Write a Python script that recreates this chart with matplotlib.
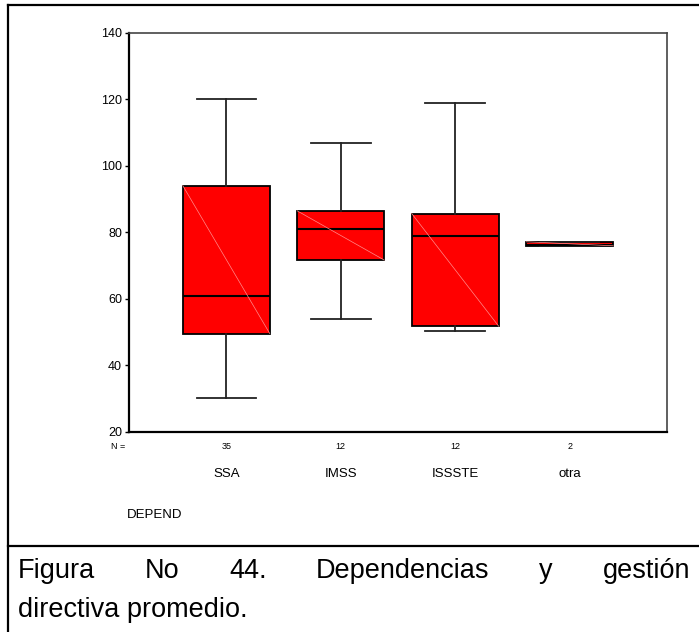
import matplotlib.pyplot as plt
from matplotlib.lines import Line2D
from matplotlib.transforms import blended_transform_factory

plt.rcParams['font.family'] = ['Liberation Sans', 'DejaVu Sans']

# --- data ---
categories = ["SSA", "IMSS", "ISSSTE", "otra"]
n_counts = [35, 12, 12, 2]
whis_low = [30.2, 54.0, 50.5, 76.0]
q1 = [49.6, 71.7, 51.8, 76.0]
medians = [60.9, 81.1, 79.0, 76.2]
q3 = [94.1, 86.5, 85.7, 77.2]
whis_high = [120.0, 107.0, 119.0, 77.2]
y_ticks = [20, 40, 60, 80, 100, 120, 140]

caption_line1 = ["Figura", "No", "44.", "Dependencias", "y", "gestión"]
caption_line2 = "directiva promedio."

positions = list(range(1, len(categories) + 1))
box_w = 0.76

fig = plt.figure(figsize=(6.99, 6.32), dpi=100)
ax = fig.add_axes([0.1845, 0.3165, 0.7697, 0.6313])

stats = []
for i, cat in enumerate(categories):
    stats.append(dict(label=cat, whislo=whis_low[i], q1=q1[i], med=medians[i],
                      q3=q3[i], whishi=whis_high[i], fliers=[]))

ax.bxp(stats, positions=positions, widths=box_w, patch_artist=True,
       showfliers=False, capwidths=0.52,
       boxprops=dict(facecolor="#ff0000", edgecolor="black", linewidth=1.3),
       medianprops=dict(color="black", linewidth=1.5),
       whiskerprops=dict(color="#222222", linewidth=1.3),
       capprops=dict(color="#222222", linewidth=1.3))

# thin diagonal streak inside every box (rendering artefact in the original)
for p, lo, hi in zip(positions, q1, q3):
    ax.plot([p - box_w / 2, p + box_w / 2], [hi, lo], color="#ff8c8c", lw=0.5, zorder=3)

ax.set_xlim(0.15, 4.85)
ax.set_ylim(20, 140)
ax.set_yticks(y_ticks)
ax.tick_params(axis="y", length=3, width=1, labelsize=9, pad=2)
ax.set_xticks(positions)
ax.set_xticklabels(categories, fontsize=9.5,
                   family=['Liberation Sans Narrow', 'Liberation Sans'])
ax.tick_params(axis="x", length=0, pad=26)

for side in ["left", "bottom"]:
    ax.spines[side].set_linewidth(1.6)
    ax.spines[side].set_color("black")
for side in ["top", "right"]:
    ax.spines[side].set_linewidth(1.2)
    ax.spines[side].set_color("#444444")

# N = counts under the axis
trans = blended_transform_factory(ax.transData, fig.transFigure)
fig.text(0.169, 0.2943, "N =", fontsize=6.5, ha="center", va="center")
for p, n in zip(positions, n_counts):
    ax.text(p, 0.2943, str(n), transform=trans, fontsize=6.5, ha="center", va="center")

fig.text(0.182, 0.185, "DEPEND", fontsize=9.5, ha="left", va="center",
         family=['Liberation Sans Narrow', 'Liberation Sans'])

# outer frame and caption divider
fx = 8 / 699
fig.add_artist(Line2D([fx, fx], [0, 0.992], color="black", lw=1.6))
fig.add_artist(Line2D([fx, 1], [0.992, 0.992], color="black", lw=1.6))
fig.add_artist(Line2D([fx, 1], [0.136, 0.136], color="black", lw=1.6))

# justified caption: first line spread between left and right margins
left_px, right_px = 18, 690
cap_size = 19.5
words = [fig.text(0, 1 - 578 / 632, w, fontsize=cap_size, ha="left", va="baseline")
         for w in caption_line1]
fig.canvas.draw()
r = fig.canvas.get_renderer()
widths = [t.get_window_extent(r).width for t in words]
gap = (right_px - left_px - sum(widths)) / (len(words) - 1)
x = left_px
for t, w in zip(words, widths):
    t.set_x(x / 699)
    x += w + gap
fig.text(left_px / 699, 1 - 617 / 632, caption_line2, fontsize=cap_size,
         ha="left", va="baseline")

fig.savefig("out.png", dpi=100)
